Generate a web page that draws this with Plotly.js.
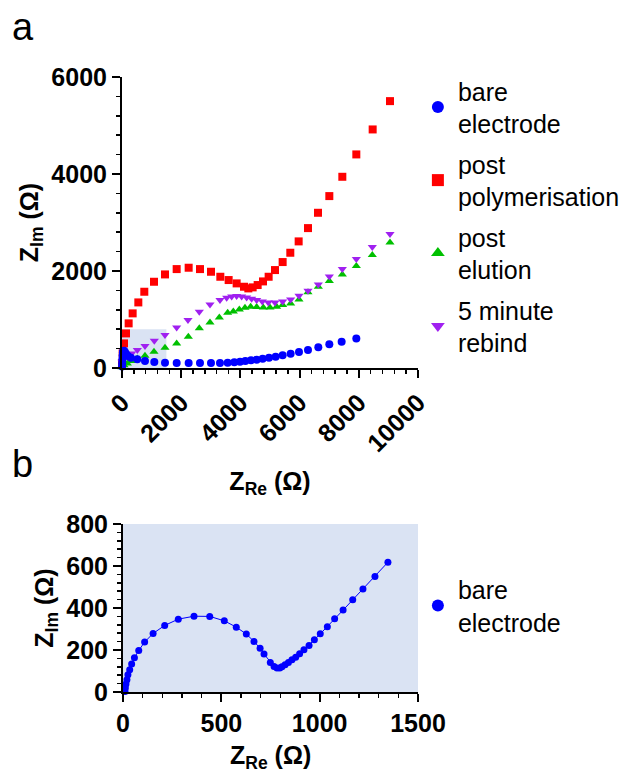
<!DOCTYPE html>
<html>
<head>
<meta charset="utf-8">
<script src="https://cdn.plot.ly/plotly-3.0.1.min.js"></script>
<style>html,body{margin:0;padding:0;background:#fff;}#chart{width:638px;height:774px;}</style>
</head>
<body>
<div id="chart"></div>
<script>
// ---- Panel a data (Z_Re, Z_Im in ohm) ----
const bareX = [2, 6, 12, 20, 30, 45, 70, 100, 140, 200, 300, 518, 777, 1092, 1453, 1847, 2252, 2635, 3006, 3310, 3570, 3795, 3986, 4166, 4358, 4549, 4752, 4966, 5191, 5427, 5697, 5979, 6283, 6632, 7004, 7420, 7916];
const bareY = [30, 100, 180, 260, 320, 350, 355, 330, 290, 250, 210, 179, 144, 124, 110, 103, 103, 103, 103, 103, 110, 117, 131, 144, 158, 172, 192, 213, 234, 261, 295, 330, 371, 426, 488, 543, 611];

const polyX = [0, 23, 68, 135, 225, 360, 552, 754, 1081, 1453, 1847, 2252, 2635, 3006, 3322, 3603, 3873, 4121, 4268, 4414, 4583, 4763, 4954, 5168, 5427, 5686, 5968, 6283, 6621, 7004, 7443, 7916, 8468, 9053];
const polyY = [96, 302, 508, 714, 921, 1127, 1353, 1573, 1779, 1930, 2040, 2068, 2040, 1985, 1882, 1814, 1745, 1676, 1642, 1663, 1711, 1786, 1882, 2020, 2185, 2377, 2611, 2885, 3201, 3545, 3943, 4404, 4919, 5503];

const elutX = [0, 68, 180, 327, 518, 777, 1081, 1453, 1847, 2241, 2612, 2973, 3288, 3570, 3761, 3964, 4155, 4346, 4549, 4774, 4999, 5225, 5427, 5697, 5979, 6283, 6632, 7004, 7443, 7916, 8456, 9053];
const elutY = [14, 55, 96, 144, 199, 254, 337, 419, 508, 646, 818, 941, 1044, 1140, 1168, 1209, 1243, 1264, 1257, 1250, 1250, 1264, 1298, 1333, 1415, 1560, 1676, 1793, 1930, 2102, 2329, 2590];

const rebindX = [0, 68, 180, 327, 518, 777, 1092, 1453, 1847, 2229, 2612, 2973, 3310, 3536, 3705, 3873, 4042, 4211, 4380, 4549, 4740, 4943, 5168, 5427, 5697, 5979, 6283, 6632, 7004, 7443, 7916, 8456, 9053];
const rebindY = [130, 192, 247, 302, 371, 453, 563, 680, 838, 989, 1161, 1312, 1401, 1450, 1477, 1484, 1477, 1456, 1429, 1401, 1374, 1353, 1353, 1374, 1415, 1491, 1594, 1724, 1889, 2040, 2246, 2494, 2762];

// ---- Panel b data (bare electrode, zoom) ----
const zoomX = [10, 12, 15, 20, 25, 34, 44, 58, 80, 110, 153, 212, 281, 361, 441, 515, 576, 627, 666, 697, 717, 749, 768, 783, 797, 808, 824, 841, 859, 878, 898, 920, 946, 973, 1003, 1039, 1076, 1119, 1168, 1220, 1281, 1347];
const zoomY = [3, 19, 38, 59, 82, 106, 133, 163, 198, 238, 279, 317, 347, 361, 360, 339, 309, 276, 241, 208, 181, 141, 122, 114, 114, 120, 130, 141, 154, 166, 182, 201, 222, 249, 277, 311, 349, 390, 439, 490, 550, 618];

// ---- Tick labels ----
const xTicksA = [0, 2000, 4000, 6000, 8000, 10000];
const xTickTextA = ["0", "2000", "4000", "6000", "8000", "10000"];
const yTicksA = [0, 2000, 4000, 6000];
const xTicksB = [0, 500, 1000, 1500];
const yTicksB = [0, 200, 400, 600, 800];

const names = ["bare<br>electrode", "post<br>polymerisation", "post<br>elution", "5 minute<br>rebind"];
const colors = ["#0000ff", "#ff0000", "#00c000", "#a020f0"];

const traces = [
  {x: polyX, y: polyY, name: names[1], type: "scatter", mode: "markers", legendrank: 2, legendgroup: "g2",
   marker: {symbol: "square", size: 8, color: colors[1]}, cliponaxis: false, xaxis: "x", yaxis: "y"},
  {x: elutX, y: elutY, name: names[2], type: "scatter", mode: "markers", legendrank: 3, legendgroup: "g3",
   marker: {symbol: "triangle-up", size: 8, color: colors[2]}, cliponaxis: false, xaxis: "x", yaxis: "y"},
  {x: rebindX, y: rebindY, name: names[3], type: "scatter", mode: "markers", legendrank: 4, legendgroup: "g4",
   marker: {symbol: "triangle-down", size: 8, color: colors[3]}, cliponaxis: false, xaxis: "x", yaxis: "y"},
  {x: bareX, y: bareY, name: names[0], type: "scatter", mode: "markers", legendrank: 1, legendgroup: "g1",
   marker: {symbol: "circle", size: 8, color: colors[0]}, cliponaxis: false, xaxis: "x", yaxis: "y"},
  {x: zoomX, y: zoomY, name: names[0], type: "scatter", mode: "lines", showlegend: false,
   line: {color: colors[0], width: 1}, cliponaxis: false, xaxis: "x2", yaxis: "y2"},
  {x: zoomX, y: zoomY, name: names[0], type: "scatter", mode: "markers", legend: "legend2",
   marker: {symbol: "circle", size: 7, color: colors[0]}, cliponaxis: false, xaxis: "x2", yaxis: "y2"}
];

const FAM = "Liberation Sans, Arial, sans-serif";
const tickFont = {family: FAM, size: 25, weight: "bold", color: "#000"};
const titleFont = {family: FAM, size: 25, weight: "bold", color: "#000"};
const axBase = {showgrid: false, zeroline: false, showline: true, linecolor: "#000", linewidth: 2,
  ticks: "outside", ticklen: 8, tickwidth: 2, tickcolor: "#000", tickfont: tickFont, fixedrange: true};

const layout = {
  width: 638, height: 774,
  margin: {l: 0, r: 0, t: 0, b: 0},
  paper_bgcolor: "#fff", plot_bgcolor: "rgba(0,0,0,0)",
  font: {family: FAM, color: "#000"},
  showlegend: true,
  xaxis: Object.assign({}, axBase, {domain: [0.1912, 0.6552], anchor: "y", range: [0, 10000],
    tickvals: xTicksA, ticktext: xTickTextA, tickangle: -45,
    minor: {dtick: 400, ticks: "outside", ticklen: 4, tickwidth: 1.5, tickcolor: "#000"},
    title: {text: "Z<sub>Re</sub> (Ω)", font: titleFont, standoff: 16}}),
  yaxis: Object.assign({}, axBase, {domain: [0.5245, 0.9005], anchor: "x", range: [0, 6000],
    tickvals: yTicksA,
    minor: {dtick: 400, ticks: "outside", ticklen: 4, tickwidth: 1.5, tickcolor: "#000"},
    title: {text: "Z<sub>Im</sub> (Ω)", font: titleFont, standoff: 6}}),
  xaxis2: Object.assign({}, axBase, {domain: [0.1928, 0.6552], anchor: "y2", range: [0, 1500],
    tickvals: xTicksB,
    minor: {dtick: 100, ticks: "outside", ticklen: 4, tickwidth: 1.5, tickcolor: "#000"}}),
  yaxis2: Object.assign({}, axBase, {domain: [0.1059, 0.3230], anchor: "x2", range: [0, 800],
    tickvals: yTicksB,
    minor: {dtick: 40, ticks: "outside", ticklen: 4, tickwidth: 1.5, tickcolor: "#000"},
    title: {text: "Z<sub>Im</sub> (Ω)", font: titleFont, standoff: 6}}),
  shapes: [
    {type: "rect", xref: "x", yref: "y", x0: 0, x1: 1500, y0: 0, y1: 800,
     fillcolor: "#dae3f3", line: {width: 0}, layer: "below"},
    {type: "rect", xref: "x2", yref: "y2", x0: 0, x1: 1500, y0: 0, y1: 800,
     fillcolor: "#dae3f3", line: {width: 0}, layer: "below"}
  ],
  legend: {x: 0.655, y: 0.912, xanchor: "left", yanchor: "top", bgcolor: "rgba(0,0,0,0)",
    font: {size: 25, color: "#000"}, itemsizing: "constant", traceorder: "grouped", tracegroupgap: 5},
  legend2: {x: 0.655, y: 0.268, xanchor: "left", yanchor: "top", bgcolor: "rgba(0,0,0,0)",
    font: {size: 25, color: "#000"}, itemsizing: "constant"},
  annotations: [
    {text: "a", xref: "paper", yref: "paper", x: 0.015, y: 0.995, xanchor: "left", yanchor: "top",
     showarrow: false, font: {size: 38, color: "#000"}},
    {text: "b", xref: "paper", yref: "paper", x: 0.015, y: 0.43, xanchor: "left", yanchor: "top",
     showarrow: false, font: {size: 38, color: "#000"}},
    {text: "Z<sub>Re</sub> (Ω)", xref: "paper", yref: "paper", x: 0.424, y: 0.0452, xanchor: "center", yanchor: "top",
     showarrow: false, font: titleFont}
  ]
};

Plotly.newPlot("chart", traces, layout, {displayModeBar: false, staticPlot: true});
</script>
</body>
</html>
